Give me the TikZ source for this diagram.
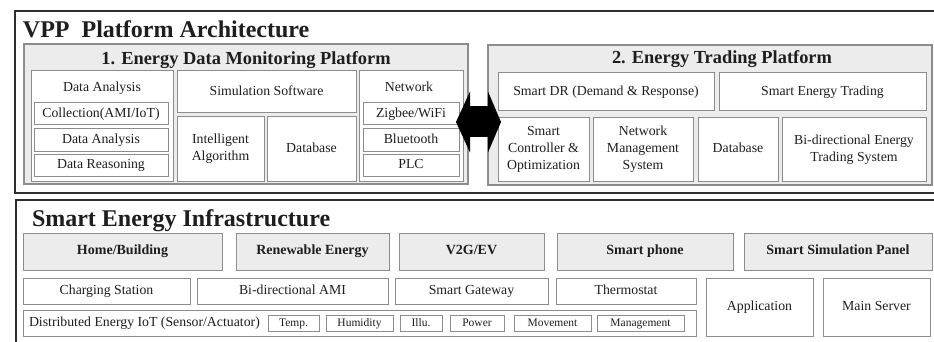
\documentclass[tikz,border=0pt]{standalone}
\usepackage{fontspec}
\setmainfont{Liberation Serif}
\usetikzlibrary{arrows.meta}
\definecolor{framegray}{HTML}{2E2E2E}
\definecolor{panelgray}{HTML}{ECECEC}
\definecolor{edgegray}{HTML}{8C8C8C}
\definecolor{inkgray}{HTML}{1E1E1E}
\tikzset{
	boxbase/.style={inner sep=0pt, outer sep=0pt, align=center, text=inkgray},
	frame/.style={draw=framegray, line width=2pt},
	panel/.style={boxbase, draw=edgegray, fill=panelgray, line width=1.3pt},
	cell/.style={boxbase, draw=edgegray, fill=white, line width=1pt, text height=0.8em, text depth=0.14em, font=\fontsize{13.8}{17}\selectfont},
	multi/.style={text height={}, text depth={}},
	graycell/.style={cell, fill=panelgray, font=\fontsize{14}{17}\selectfont\bfseries},
	tag/.style={cell, line width=0.9pt, font=\fontsize{11.5}{13}\selectfont},
	txt/.style={boxbase, font=\fontsize{13.8}{17}\selectfont},
	ptitle/.style={boxbase, anchor=base, font=\fontsize{18.4}{22}\selectfont\bfseries},
	btitle/.style={boxbase, anchor=base west, font=\fontsize{24}{28}\selectfont\bfseries},
}
\def\cellat[#1](#2)(#3,#4,#5,#6)#7{\node[#1, anchor=north west, minimum width={#5-#3}, minimum height={#6-#4}] (#2) at (#3,#4) {#7};}

\begin{document}
\begin{tikzpicture}[x=1pt,y=-1pt]
	\useasboundingbox (0,0) rectangle (934,342);
	\clip (0,0) rectangle (934,342);
	\fill[white] (0,0) rectangle (934,342);

	\draw[frame] (15,11) rectangle (945,193);
	\node[btitle] (vpptitle) at (23,38) {VPP\ \ Platform Architecture};

	\cellat[panel](monitor)(24,44,468,184){}
	\node[ptitle] (monitortitle) at (246,65) {1. Energy Data Monitoring Platform};
	\cellat[cell](anaCol)(31,71,173,181){}
	\node[txt] (anaHead) at (102,88) {Data Analysis};
	\cellat[cell](collect)(34,103,168,125){Collection(AMI/IoT)}
	\cellat[cell](analysis)(34,129,168,151){Data Analysis}
	\cellat[cell](reason)(34,154,168,176){Data Reasoning}
	\cellat[cell](simsw)(177,71,356,113){Simulation Software}
	\cellat[cell,multi](algo)(177,117,264,181){Intelligent\\Algorithm}
	\cellat[cell](dbmon)(267,117,356,181){Database}
	\cellat[cell](netCol)(359,71,463,181){}
	\node[txt] (netHead) at (409,87) {Network};
	\cellat[cell](zigbee)(363,103,459,125){Zigbee/WiFi}
	\cellat[cell](bluetooth)(363,129,459,151){Bluetooth}
	\cellat[cell](plc)(363,154,459,176){PLC}

	\cellat[panel](trading)(488,45,932,185){}
	\node[ptitle] (tradingtitle) at (722,64) {2. Energy Trading Platform};
	\cellat[cell](smartdr)(498,73,714,111){Smart DR (Demand \& Response)}
	\cellat[cell](smarttrade)(719,73,926,111){Smart Energy Trading}
	\cellat[cell,multi](control)(498,118,589,181){Smart\\Controller \&\\Optimization}
	\cellat[cell,multi](netmgmt)(593,118,693,181){Network\\Management\\System}
	\cellat[cell](dbtrade)(698,118,778,181){Database}
	\cellat[cell,multi](bitrade)(782,118,926,181){Bi-directional Energy\\Trading System}

	\coordinate (arrL) at (456,122);
	\coordinate (arrR) at (501,122);
	\draw[black, line width=31pt, {Triangle[length=14pt,width=61pt,line width=0pt]}-{Triangle[length=13pt,width=61pt,line width=0pt]}] (arrL) -- (arrR);

	\draw[frame] (16,200) rectangle (945,352);
	\node[btitle] (infratitle) at (32,226) {Smart Energy Infrastructure};
	\cellat[graycell](home)(23,233,222,270){Home/Building}
	\cellat[graycell](renew)(236,233,389,270){Renewable Energy}
	\cellat[graycell](vtwog)(399,233,544,270){V2G/EV}
	\cellat[graycell](phone)(557,233,733,270){Smart phone}
	\cellat[graycell](simpanel)(744,233,932,270){Smart Simulation Panel}
	\cellat[cell](charging)(23,278,190,304){Charging Station}
	\cellat[cell](bami)(197,278,388,304){Bi-directional AMI}
	\cellat[cell](gateway)(395,278,548,304){Smart Gateway}
	\cellat[cell](thermo)(556,278,696,304){Thermostat}
	\cellat[cell](app)(706,278,813,336){Application}
	\cellat[cell](server)(823,278,930,336){Main Server}
	\cellat[cell](iotRow)(23,310,696,336){}
	\node[txt, anchor=west] (iotHead) at (29,323) {Distributed Energy IoT (Sensor/Actuator)};
	\cellat[tag](temp)(268,315,319,331){Temp.}
	\cellat[tag](humid)(326,315,393,331){Humidity}
	\cellat[tag](illu)(400,315,442,331){Illu.}
	\cellat[tag](power)(450,315,504,331){Power}
	\cellat[tag](move)(514,315,591,331){Movement}
	\cellat[tag](manage)(597,315,684,331){Management}
\end{tikzpicture}
\end{document}
